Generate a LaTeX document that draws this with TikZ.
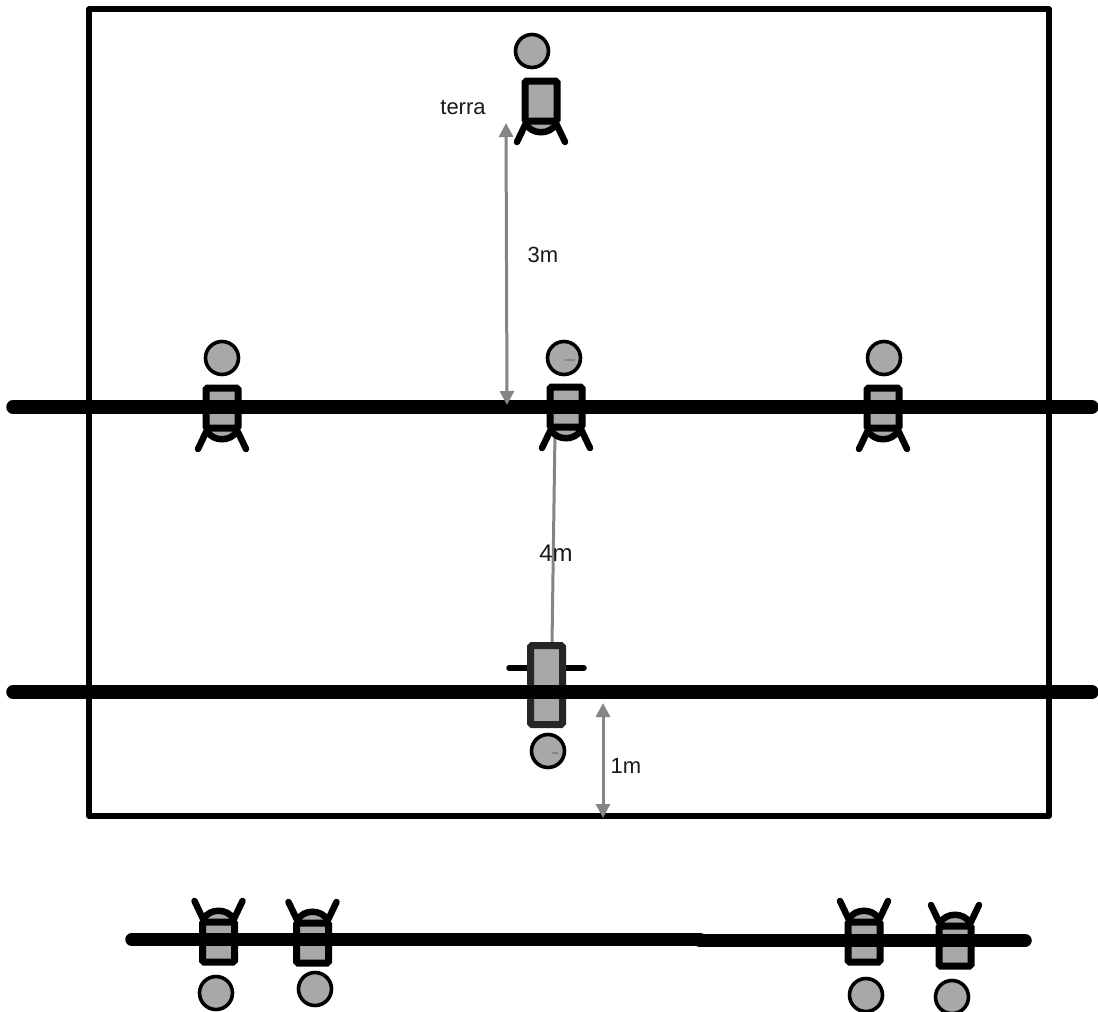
\documentclass[tikz,border=0pt]{standalone}
\usepackage{fontspec}
\setmainfont{Liberation Sans}
\definecolor{fillgrey}{gray}{0.66}
\definecolor{arrowgrey}{gray}{0.52}
\usetikzlibrary{arrows.meta}
\tikzset{
  x=1pt,y=-1pt,
  frameline/.style={draw=black,line width=5.5pt,line join=round},
  rail/.style={draw=black,line width=13.5pt,line cap=round},
  bodybox/.style={draw=black,fill=fillgrey,line width=7pt,rounded corners=1.5pt},
  stroke/.style={draw=black,line width=6.5pt,line cap=round},
  headdisc/.style={draw=black,fill=fillgrey,line width=3.6pt,circle,minimum size=33pt,inner sep=0pt,outer sep=0pt},
  measure/.style={draw=arrowgrey,line width=3pt,{Triangle[length=14pt,width=14pt]}-{Triangle[length=14pt,width=14pt]}},
  plainmeasure/.style={draw=arrowgrey,line width=3pt},
  headmark/.style={draw=arrowgrey,line width=1.2pt},
  lab/.style={font=\fontsize{22}{26}\selectfont,text=black!90,inner sep=0pt},
  pics/chair/.style={code={
    \path[stroke,fill=fillgrey,line cap=butt] (-15,23) .. controls (-9,34) and (9,34) .. (15,23);
    \path[bodybox] (-16,-20) rectangle (16,20);
    \path[stroke] (-14,20) -- (-24,41);
    \path[stroke] (14,20) -- (24,41);
  }},
}
\begin{document}
\begin{tikzpicture}
\useasboundingbox[fill=white] (0,0) rectangle (1098,1012);
% room
\path[frameline] (89,9) rectangle (1049,816);
% measure anchors
\coordinate (topA) at (506,123);
\coordinate (topB) at (507,405);
\coordinate (midA) at (555,432);
\coordinate (midB) at (552,645);
\coordinate (lowA) at (603,703);
\coordinate (lowB) at (603,818);
\draw[plainmeasure] (midA) -- (midB);
% top chair
\node[headdisc] (h1) at (532,51) {};
\pic at (541,101) {chair};
% middle row chairs
\pic at (222,408) {chair};
\pic at (566,407) {chair};
\pic at (883,408) {chair};
\node[headdisc] (h2) at (222,358) {};
\node[headdisc] (h3) at (564,358) {};
\node[headdisc] (h4) at (884,358) {};
\draw[headmark] (565,360) -- (575,360);
% front chair
\path[stroke,line width=5.5pt] (509,668) -- (584,668);
\path[draw=black!85,fill=fillgrey,line width=7pt,rounded corners=1.5pt] (530.5,645.5) rectangle (562.5,724.5);
\node[headdisc] (h5) at (548,751) {};
\draw[headmark] (552,753) -- (558,753);
% rails
\coordinate (r1l) at (13,407);
\coordinate (r1r) at (1092,407);
\coordinate (r2l) at (13,692);
\coordinate (r2r) at (1092,692);
\draw[rail] (r1l) -- (r1r);
\draw[rail] (r2l) -- (r2r);
% bottom row
\pic[yscale=-1] at (218.5,942) {chair};
\pic[yscale=-1] at (312.5,943) {chair};
\pic[yscale=-1] at (864,942) {chair};
\pic[yscale=-1] at (955,946) {chair};
\node[headdisc] (h6) at (216,993) {};
\node[headdisc] (h7) at (315,989) {};
\node[headdisc] (h8) at (866,995) {};
\node[headdisc] (h9) at (952,997) {};
\coordinate (r3l) at (132,939.5);
\coordinate (r3m) at (700,939.5);
\coordinate (r3n) at (700,940.5);
\coordinate (r3r) at (1025,940.5);
\draw[rail] (r3l) -- (r3m);
\draw[rail] (r3n) -- (r3r);
% arrows
\draw[measure] (topA) -- (topB);
\draw[measure] (lowA) -- (lowB);
% labels
\node[lab] (terra) at (463,107) {terra};
\node[lab] (m3) at (543,255) {3m};
\node[lab,font=\fontsize{24}{28}\selectfont] (m4) at (556,553) {4m};
\node[lab] (m1) at (626,766) {1m};
\end{tikzpicture}
\end{document}
